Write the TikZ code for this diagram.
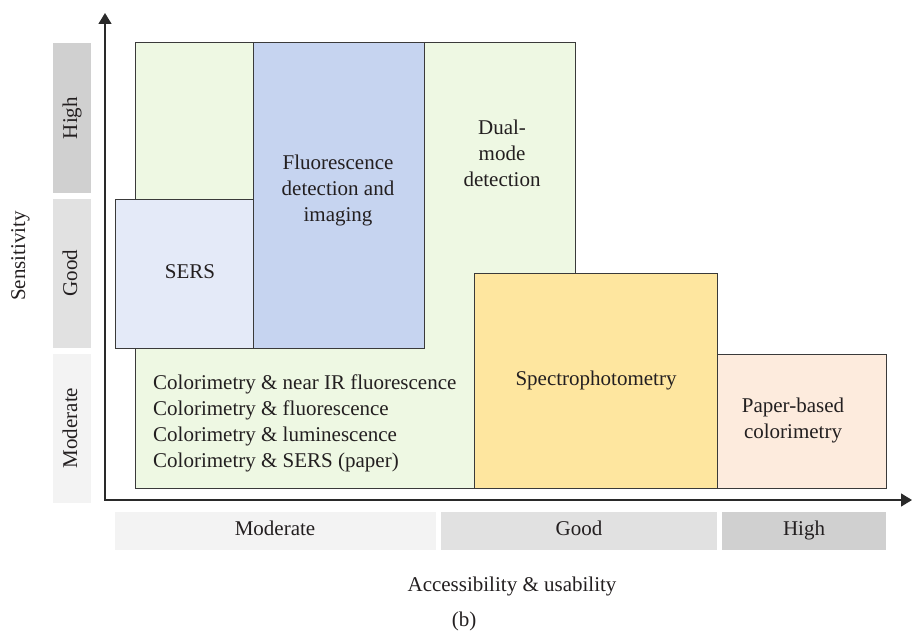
\documentclass[tikz,border=0pt]{standalone}
\usepackage{fontspec}
\setmainfont{Liberation Serif}
\usetikzlibrary{arrows.meta}
\definecolor{textc}{HTML}{231F20}
\definecolor{strokec}{HTML}{3A3A3A}
\definecolor{axisc}{HTML}{2A2A2A}
\definecolor{greenc}{HTML}{EEF8E3}
\definecolor{fluoc}{HTML}{C6D4F0}
\definecolor{sersc}{HTML}{E4EAF8}
\definecolor{spectc}{HTML}{FEE69F}
\definecolor{paperc}{HTML}{FDEBDD}
\definecolor{barhigh}{HTML}{D0D0D0}
\definecolor{bargood}{HTML}{E1E1E1}
\definecolor{barmod}{HTML}{F3F3F3}
\begin{document}
\begin{tikzpicture}[x=1pt,y=-1pt,
  box/.style={draw=strokec, line width=1pt, inner sep=0pt, outer sep=0pt, anchor=north west},
  bar/.style={inner sep=0pt, outer sep=0pt, anchor=north west},
  lbl/.style={text=textc, font=\fontsize{21}{26}\selectfont, align=center, inner sep=0pt},
  one/.style={lbl, text height=14.5pt, text depth=4.5pt},
  axisline/.style={draw=axisc, line width=1.4pt, {Triangle[length=11pt,width=13pt]}-{Triangle[length=11pt,width=13pt]}}
]
\useasboundingbox (0,0) rectangle (912,634);

% left sensitivity bars
\node[bar, fill=barhigh, minimum width=38pt, minimum height=150pt] (bh) at (53,43) {};
\node[bar, fill=bargood, minimum width=38pt, minimum height=149pt] (bg) at (53,199) {};
\node[bar, fill=barmod, minimum width=38pt, minimum height=149pt] (bm) at (53,354) {};
\node[one, rotate=90] (tbh) at (72,118) {High};
\node[one, rotate=90] (tbg) at (72,273) {Good};
\node[one, rotate=90] (tbm) at (72,428) {Moderate};
\node[one, rotate=90] (sens) at (20,256) {Sensitivity};

% bottom accessibility bars
\node[bar, fill=barmod, minimum width=321pt, minimum height=38pt] (am) at (115,512) {};
\node[bar, fill=bargood, minimum width=276pt, minimum height=38pt] (ag) at (441,512) {};
\node[bar, fill=barhigh, minimum width=164pt, minimum height=38pt] (ah) at (722,512) {};
\node[one] (tam) at (275,530) {Moderate};
\node[one] (tag) at (579,530) {Good};
\node[one] (tah) at (804,530) {High};
\node[one] (acc) at (512,586) {Accessibility \& usability};
\node[one] (cap) at (464,621) {(b)};

% axes
\coordinate (o) at (105,500);
\coordinate (ytip) at (105,13);
\coordinate (xtip) at (912,500);
\draw[axisline] (ytip) -- (o) -- (xtip);

% boxes
\node[box, fill=greenc, minimum width=440pt, minimum height=445pt] (green) at (135,43) {};
\node[box, fill=fluoc, minimum width=171pt, minimum height=305pt] (fluo) at (253,43) {};
\node[box, fill=sersc, minimum width=138pt, minimum height=149pt] (sers) at (115,199) {};
\node[box, fill=spectc, minimum width=243pt, minimum height=215pt] (spect) at (474,273) {};
\node[box, fill=paperc, minimum width=169pt, minimum height=134pt] (paper) at (717,354) {};

% texts
\node[lbl] (tfluo) at (338,190) {Fluorescence\\detection and\\imaging};
\node[lbl] (tdual) at (502,153) {Dual-\\mode\\detection};
\node[one] (tsers) at (190,273) {SERS};
\node[one] (tspect) at (596,380) {Spectrophotometry};
\node[lbl] (tpaper) at (793,420) {Paper-based\\colorimetry};
\node[lbl, align=left, anchor=west] (tcol) at (153,423) {Colorimetry \& near IR fluorescence\\Colorimetry \& fluorescence\\Colorimetry \& luminescence\\Colorimetry \& SERS (paper)};
\end{tikzpicture}
\end{document}
